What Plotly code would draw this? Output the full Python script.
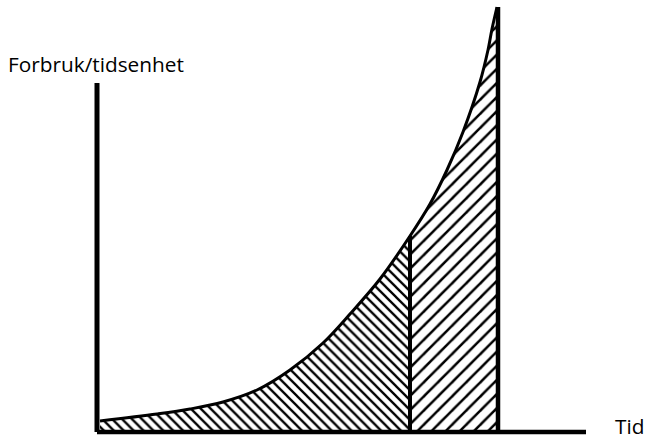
import plotly.graph_objects as go

# Curve (time units, consumption units; origin at the axes corner)
time = [3, 60, 93, 126, 160, 193, 226, 253, 283, 313, 333, 350, 366, 383, 391, 395, 400]
usage = [11, 18, 23, 30, 42, 62, 89, 118, 153, 196, 228, 262, 300, 350, 382, 403, 425]

split_time = 313       # first vertical marker
end_time = 401         # second vertical marker
y_axis_top = 349
x_axis_end = 489

y_label = "Forbruk/tidsenhet"
x_label = "Tid"

left_t = [t for t in time if t <= split_time]
left_u = [u for t, u in zip(time, usage) if t <= split_time]
right_t = [t for t in time if t >= split_time] + [end_time]
right_u = [u for t, u in zip(time, usage) if t >= split_time]
right_u = right_u + [right_u[-1]]

fig = go.Figure()

fig.add_trace(go.Scatter(
    x=left_t, y=left_u, mode="lines", line=dict(width=0, shape="spline", color="black"),
    fill="tozeroy",
    fillpattern=dict(shape="\\", size=7, solidity=0.33, fgcolor="black", bgcolor="white", fillmode="replace"),
    hoverinfo="skip", showlegend=False))

fig.add_trace(go.Scatter(
    x=right_t, y=right_u, mode="lines", line=dict(width=0, shape="spline", color="black"),
    fill="tozeroy",
    fillpattern=dict(shape="/", size=10, solidity=0.25, fgcolor="black", bgcolor="white", fillmode="replace"),
    hoverinfo="skip", showlegend=False))

# curve outline
fig.add_trace(go.Scatter(x=time, y=usage, mode="lines",
                         line=dict(width=3, shape="spline", color="black"),
                         hoverinfo="skip", showlegend=False))

# vertical markers
fig.add_trace(go.Scatter(x=[split_time, split_time], y=[0, left_u[-1]], mode="lines",
                         line=dict(width=4, color="black"), showlegend=False, hoverinfo="skip"))
fig.add_trace(go.Scatter(x=[end_time, end_time], y=[0, usage[-1]], mode="lines",
                         line=dict(width=4.5, color="black"), showlegend=False, hoverinfo="skip"))

# axes
fig.add_trace(go.Scatter(x=[0, 0], y=[0, y_axis_top], mode="lines",
                         line=dict(width=5, color="black"), showlegend=False, hoverinfo="skip"))
fig.add_trace(go.Scatter(x=[0, x_axis_end], y=[0, 0], mode="lines",
                         line=dict(width=4.5, color="black"), showlegend=False, hoverinfo="skip"))

fig.add_annotation(x=6 / 645, y=(439 - 80) / 439, xref="paper", yref="paper", text=y_label,
                   showarrow=False, xanchor="left", yanchor="bottom",
                   font=dict(family="Open Sans", size=20.8, color="black"))
fig.add_annotation(x=613 / 645, y=(439 - 442) / 439, xref="paper", yref="paper", text=x_label,
                   showarrow=False, xanchor="left", yanchor="bottom",
                   font=dict(family="Open Sans", size=20.8, color="black"))

fig.update_layout(
    width=645, height=439,
    margin=dict(l=0, r=0, t=0, b=0),
    paper_bgcolor="white", plot_bgcolor="white",
    xaxis=dict(range=[-97, 548], visible=False, fixedrange=True),
    yaxis=dict(range=[-7, 432], visible=False, fixedrange=True),
)

# remove the default page margin so the figure sits at the window origin without scrollbars
fig.write_html("out.html",
               config={"displayModeBar": False, "staticPlot": True},
               post_script="document.body.style.margin='0';document.body.style.overflow='hidden';")
